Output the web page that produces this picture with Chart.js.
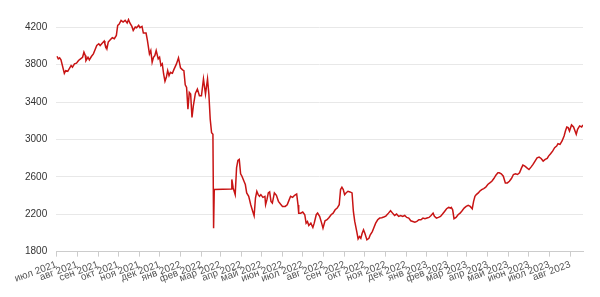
<!DOCTYPE html>
<html><head><meta charset="utf-8">
<script src="https://cdn.jsdelivr.net/npm/chart.js@4/dist/chart.umd.min.js"></script>
<style>html,body{margin:0;padding:0;background:#fff}</style>
</head><body>
<canvas id="c" width="600" height="297"></canvas>
<script>
// days since 2021-07-01
const days = [1,3,5,7,12,14,17,20,22,24,27,30,33,36,39,41,43,44,47,49,52,55,57,60,63,65,68,71,72,75,77,80,83,86,89,91,93,96,99,102,105,107,
109,112,114,117,119,122,124,127,129,133,135,138,140,142,144,146,148,151,153,155,157,159,161,163,165,167,169,172,174,178,181,184,187,189,191,193,195,197,199,201,203,206,209,212,215,218,221,224,226,228,230,232,233,234,259,
260,262,265,267,269,271,273,275,278,280,282,285,288,291,293,295,297,299,301,303,306,309,310,312,314,316,318,320,323,326,329,332,335,339,342,344,347,350,353,356,358,359,
362,365,368,370,372,374,377,380,382,385,387,390,393,395,398,401,404,407,410,413,416,419,421,423,425,427,429,432,435,438,440,442,445,447,449,451,453,455,457,460,463,465,468,470,473,476,479,482,485,488,492,
495,498,501,504,507,510,513,516,519,522,525,528,531,534,537,540,543,546,549,552,555,558,560,563,566,569,572,575,578,581,584,585,587,589,592,595,598,601,604,607,610,613,616,618,620,622,625,627,630,633,636,639,642,645,648,651,654,656,659,662,665,668,671,674,677,680,683,686,689,691,694,697,700,703,706,709,712,715,718,721,724,727,729,732,735,738,741,743,746,749,752,754,756,758,760,763,766,770,772,775,778,780];
const values = [3891,3863,3874,3852,3708,3737,3730,3766,3791,3773,3809,3816,3845,3863,3880,3934,3898,3845,3880,3852,3888,3916,3952,4006,4024,4006,4031,4053,4024,3970,4042,4067,4089,4078,4114,4221,4232,4275,4257,4275,4247,4283,
4247,4210,4167,4203,4196,4221,4196,4210,4139,4139,4060,3916,3952,3826,3880,3898,3952,3863,3880,3791,3809,3701,3622,3665,3737,3683,3719,3708,3745,3809,3874,3766,3745,3737,3586,3558,3325,3504,3486,3235,3360,3493,3540,3468,3468,3647,3486,3647,3486,3217,3073,3056,2051,2464,2470,
2572,2481,2410,2696,2776,2787,2632,2607,2553,2518,2428,2392,2302,2230,2184,2374,2446,2410,2392,2410,2381,2392,2302,2356,2428,2439,2338,2320,2428,2403,2338,2309,2284,2284,2302,2338,2392,2381,2403,2417,2300,2212,
2212,2224,2195,2105,2123,2080,2105,2058,2105,2195,2212,2177,2105,2051,2130,2141,2166,2195,2212,2248,2266,2302,2464,2489,2464,2410,2428,2446,2439,2428,2230,2123,2015,1937,1961,1943,1997,2033,1997,1926,1943,1980,2015,2051,2105,2141,2159,2162,2170,2180,2212,
2238,2212,2187,2202,2177,2187,2177,2187,2166,2159,2130,2123,2116,2123,2141,2141,2159,2152,2159,2166,2187,2212,2177,2159,2166,2177,2202,2230,2259,2273,2266,2273,2248,2152,2166,2195,2212,2238,2266,2284,2295,2284,2259,2338,2392,2410,2428,2446,2464,2475,2489,2518,2535,2553,2582,2618,2643,2643,2632,2607,2535,2535,2553,2582,2625,2632,2625,2643,2696,2726,2715,2696,2679,2704,2733,2769,2804,2812,2797,2769,2787,2797,2822,2847,2876,2912,2930,2955,2948,2984,3038,3091,3134,3127,3091,3156,3134,3056,3109,3145,3134,3156];
const monthNames = ['янв','фев','мар','апр','май','июн','июл','авг','сен','окт','ноя','дек'];
const firstMonth = {year:2021, month:6};
const monthCount = 26;
const yTicks = [1800,2200,2600,3000,3400,3800,4200];

const base = Date.UTC(2021,6,1);
const monthTicks = [], monthLabels = [];
for (let i=0;i<monthCount;i++){
  const y = firstMonth.year + Math.floor((firstMonth.month+i)/12);
  const m = (firstMonth.month+i)%12;
  monthTicks.push((Date.UTC(y,m,1)-base)/86400000);
  monthLabels.push(monthNames[m]+' '+y);
}

new Chart(document.getElementById('c'), {
  type:'line',
  data:{datasets:[{data:days.map((d,i)=>({x:d,y:values[i]})),borderColor:'#c81414',borderWidth:1.5,pointRadius:0,tension:0,fill:false}]},
  options:{
    responsive:false, animation:false, devicePixelRatio:1,
    layout:{padding:{left:16,right:17,top:18,bottom:10}},
    plugins:{legend:{display:false},tooltip:{enabled:false}},
    scales:{
      x:{type:'linear',min:0,max:days[days.length-1],
        afterBuildTicks:s=>{s.ticks=monthTicks.map(v=>({value:v}));},
        grid:{drawOnChartArea:false,drawTicks:true,tickLength:5,color:'#cccccc'},
        border:{color:'#cccccc'},
        ticks:{autoSkip:false,minRotation:20,maxRotation:20,padding:2,color:'#555',font:{family:'Liberation Sans',size:10},
          callback:(v,i)=>monthLabels[i]}},
      y:{min:1800,max:4300,
        afterBuildTicks:s=>{s.ticks=yTicks.map(v=>({value:v}));},
        grid:{color:'#e8e8e8',drawTicks:false},
        border:{display:false},
        ticks:{padding:9,color:'#333',font:{family:'Liberation Sans',size:10},callback:v=>String(v)}}
    }
  }
});
</script>
</body></html>
